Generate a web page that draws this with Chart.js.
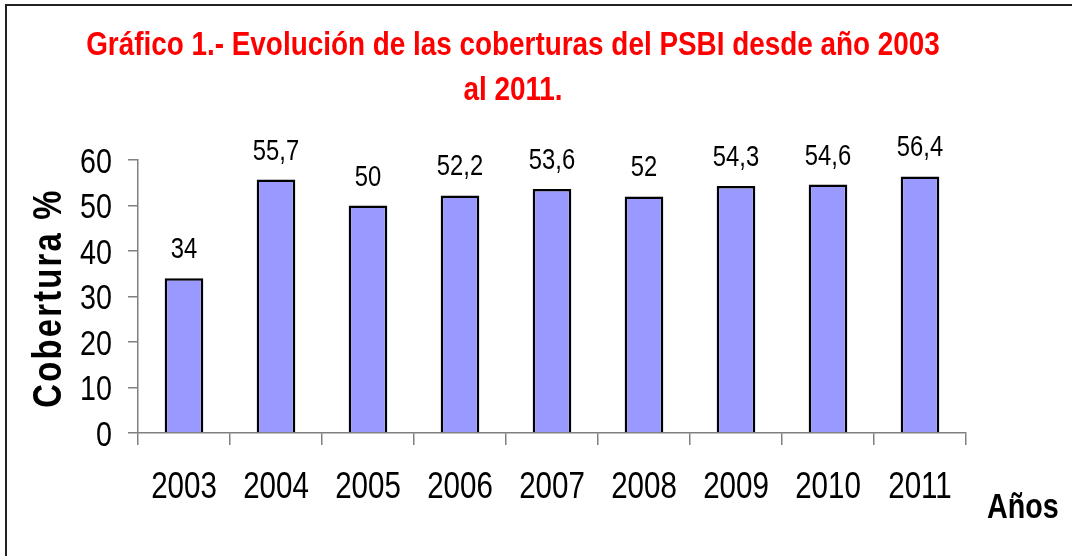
<!DOCTYPE html>
<html>
<head>
<meta charset="utf-8">
<script src="https://cdn.jsdelivr.net/npm/chart.js@4/dist/chart.umd.min.js"></script>
<style>
  html, body { margin: 0; padding: 0; background: #fff; }
  #wrap { width: 1072px; height: 556px; }
</style>
</head>
<body>
<div id="wrap"><canvas id="chart" width="1072" height="556"></canvas></div>
<script>
// datos del gráfico
const years = ['2003', '2004', '2005', '2006', '2007', '2008', '2009', '2010', '2011'];
const coverage = [34, 55.7, 50, 52.2, 53.6, 52, 54.3, 54.6, 56.4];
const yTicks = [0, 10, 20, 30, 40, 50, 60];
const titleLines = ['Gráfico 1.- Evolución de las coberturas del PSBI desde año 2003', 'al 2011.'];
const yTitle = 'Cobertura %';
const xTitle = 'Años';

const FONT = "'Liberation Sans', Arial, sans-serif";
const NARROW = 0.82; // simula Arial Narrow

// texto comprimido horizontalmente
function narrowText(ctx, text, x, y, font, align) {
    ctx.save();
    ctx.font = font;
    ctx.textAlign = align || 'center';
    ctx.textBaseline = 'alphabetic';
    ctx.translate(x, y);
    ctx.scale(NARROW, 1);
    ctx.fillText(text, 0, 0);
    ctx.restore();
}

// textos, marco y etiquetas
const decorPlugin = {
    id: 'decor',
    afterDraw(chart) {
        const ctx = chart.ctx;
        ctx.save();
        // marco
        ctx.strokeStyle = '#222';
        ctx.lineWidth = 2;
        ctx.beginPath();
        ctx.moveTo(6, 556);
        ctx.lineTo(6, 5);
        ctx.lineTo(1072, 5);
        ctx.stroke();

        // título
        ctx.fillStyle = '#ff0000';
        narrowText(ctx, titleLines[0], 513, 55, 'bold 34px ' + FONT);
        narrowText(ctx, titleLines[1], 513, 100, 'bold 34px ' + FONT);

        ctx.fillStyle = '#000';
        // etiquetas eje x
        const xs = chart.scales.x;
        years.forEach((y, i) => {
            narrowText(ctx, y, xs.getPixelForValue(i), 498, '36px ' + FONT);
        });
        // etiquetas eje y
        const ys = chart.scales.y;
        yTicks.forEach(v => {
            narrowText(ctx, String(v), 112, ys.getPixelForValue(v) + 12.5, '35px ' + FONT, 'right');
        });

        // etiquetas de valores
        const meta = chart.getDatasetMeta(0);
        meta.data.forEach((bar, i) => {
            const label = String(coverage[i]).replace('.', ',');
            narrowText(ctx, label, bar.x, bar.y - 20, '29px ' + FONT);
        });

        // título eje x
        narrowText(ctx, xTitle, 987, 518, 'bold 35px ' + FONT, 'left');

        // título eje y
        ctx.save();
        ctx.translate(61, 298);
        ctx.rotate(-Math.PI / 2);
        ctx.scale(NARROW, 1);
        ctx.font = 'bold 40px ' + FONT;
        ctx.letterSpacing = '2.7px';
        ctx.textAlign = 'center';
        ctx.textBaseline = 'alphabetic';
        ctx.fillText(yTitle, 0, 0);
        ctx.restore();

        ctx.restore();
    }
};

new Chart(document.getElementById('chart'), {
    type: 'bar',
    data: {
        labels: years,
        datasets: [{
            data: coverage,
            backgroundColor: '#9999ff',
            borderColor: '#000',
            borderWidth: 2.5,
            categoryPercentage: 1,
            barPercentage: 0.42
        }]
    },
    options: {
        responsive: false,
        animation: false,
        events: [],
        layout: {
            padding: { left: 0, right: 106, top: 160, bottom: 43 }
        },
        plugins: {
            legend: { display: false },
            tooltip: { enabled: false },
            title: { display: false }
        },
        scales: {
            x: {
                grid: {
                    offset: true,
                    drawOnChartArea: false,
                    tickLength: 12,
                    color: '#808080',
                    lineWidth: 1.5
                },
                border: { color: '#808080', width: 1.5 },
                ticks: {
                    color: 'rgba(0,0,0,0)',
                    font: { family: FONT, size: 34 },
                    padding: 20,
                    maxRotation: 0
                },
                afterFit(scale) { scale.height = 80; }
            },
            y: {
                min: 0,
                max: 60,
                afterBuildTicks(scale) {
                    scale.ticks = yTicks.map(v => ({ value: v }));
                },
                grid: {
                    drawOnChartArea: false,
                    tickLength: 10,
                    color: '#808080',
                    lineWidth: 1.5
                },
                border: { color: '#808080', width: 1.5 },
                ticks: {
                    color: 'rgba(0,0,0,0)',
                    font: { family: FONT, size: 34 },
                    padding: 16
                },
                afterFit(scale) { scale.width = 138; }
            }
        }
    },
    plugins: [decorPlugin]
});
</script>
</body>
</html>
